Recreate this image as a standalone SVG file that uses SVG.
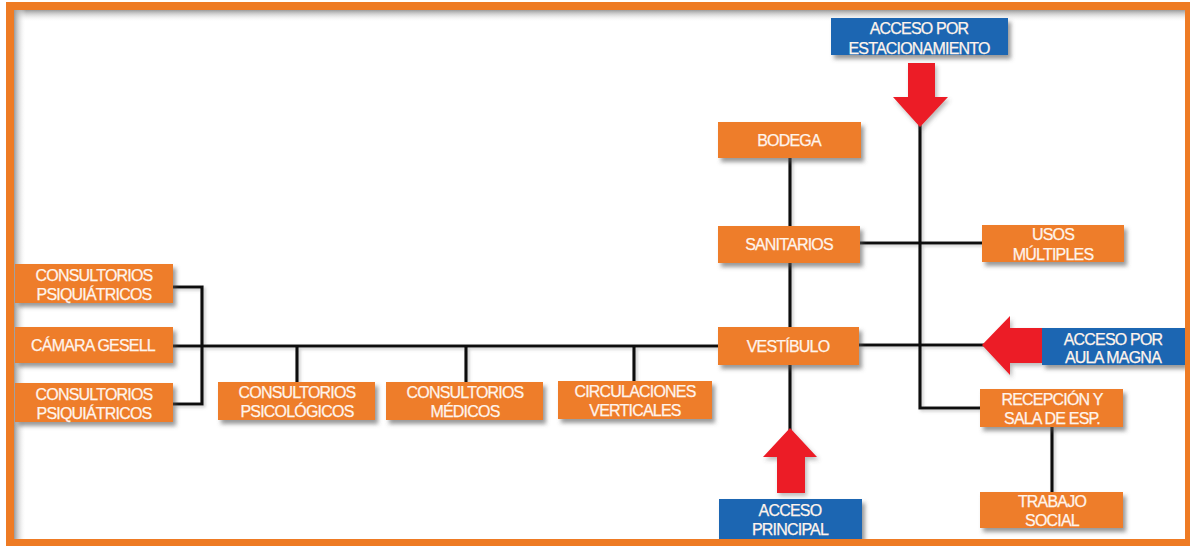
<svg xmlns="http://www.w3.org/2000/svg" width="1190" height="546" viewBox="0 0 1190 546">
<style>
.box{fill:#EE7D2B;filter:url(#sh)}
.blue{fill:#1A66B2;filter:url(#sh)}
.arr{fill:#EC1C26;filter:url(#sh2)}
.t{font-family:"Liberation Sans",Arial,sans-serif;font-size:16px;fill:#FFF4EC;stroke:#FFF4EC;stroke-width:0.25px;text-anchor:middle;letter-spacing:-0.8px}
.ln{fill:none;stroke:#111;stroke-width:3.2;stroke-linejoin:miter}
</style>
<defs>
<filter id="sh" x="-10%" y="-20%" width="125%" height="160%">
<feDropShadow dx="3" dy="4" stdDeviation="2" flood-color="#555" flood-opacity="0.6"/>
</filter>
<filter id="sh2" x="-20%" y="-20%" width="150%" height="150%">
<feDropShadow dx="2" dy="3" stdDeviation="2" flood-color="#555" flood-opacity="0.4"/>
</filter>
<filter id="sh3" filterUnits="userSpaceOnUse" x="0" y="0" width="1190" height="546">
<feDropShadow dx="2" dy="2" stdDeviation="1.5" flood-color="#777" flood-opacity="0.35"/>
</filter>
<linearGradient id="gt" x1="0" y1="0" x2="0" y2="1">
<stop offset="0" stop-color="#9a9a9a"/><stop offset="1" stop-color="#fff" stop-opacity="0"/>
</linearGradient>
<linearGradient id="gl" x1="0" y1="0" x2="1" y2="0">
<stop offset="0" stop-color="#9a9a9a"/><stop offset="1" stop-color="#fff" stop-opacity="0"/>
</linearGradient>
</defs>
<rect x="0" y="0" width="1190" height="546" fill="#fff"/>
<rect x="14" y="10" width="1171" height="12" fill="url(#gt)"/>
<rect x="14" y="10" width="12" height="529" fill="url(#gl)"/>

<g id="connectors" filter="url(#sh3)">
<path class="ln" d="M173,287 H202 V404 H173"/>
<path class="ln" d="M173,346 H718"/>
<path class="ln" d="M297,346 V382 M466,346 V382 M634,346 V381"/>
<path class="ln" d="M790,158 V226 M790,263 V327 M790,365 V430"/>
<path class="ln" d="M860,243 H982"/>
<path class="ln" d="M859,345 H984"/>
<path class="ln" d="M920,125 V408 H980"/>
<path class="ln" d="M1052,427 V492"/>
</g>

<g id="arrow-estacionamiento"><polygon class="arr" points="908,63 935,63 935,97 948,97 920,127 893,97 908,97"/></g>
<g id="arrow-aula"><polygon class="arr" points="1042,328 1010,328 1010,316 982,345 1010,375 1010,363 1042,363"/></g>
<g id="arrow-principal"><polygon class="arr" points="777,493 777,457 763,457 790,428 817,457 805,457 805,493"/></g>

<g id="psiq1"><rect class="box" x="15" y="264" width="158" height="39"/><text class="t" x="94" y="281">CONSULTORIOS</text><text class="t" x="94" y="300">PSIQUIÁTRICOS</text></g>
<g id="gesell"><rect class="box" x="15" y="327" width="158" height="36"/><text class="t" x="93" y="351">CÁMARA GESELL</text></g>
<g id="psiq2"><rect class="box" x="15" y="383" width="158" height="39"/><text class="t" x="94" y="400">CONSULTORIOS</text><text class="t" x="94" y="419">PSIQUIÁTRICOS</text></g>
<g id="psico"><rect class="box" x="218" y="382" width="157" height="38"/><text class="t" x="297" y="398">CONSULTORIOS</text><text class="t" x="297" y="417">PSICOLÓGICOS</text></g>
<g id="medicos"><rect class="box" x="386" y="382" width="157" height="38"/><text class="t" x="465" y="398">CONSULTORIOS</text><text class="t" x="465" y="417">MÉDICOS</text></g>
<g id="circ"><rect class="box" x="558" y="381" width="154" height="38"/><text class="t" x="635" y="397">CIRCULACIONES</text><text class="t" x="635" y="416">VERTICALES</text></g>
<g id="vestibulo"><rect class="box" x="718" y="327" width="141" height="38"/><text class="t" x="788" y="352">VESTÍBULO</text></g>
<g id="sanitarios"><rect class="box" x="718" y="226" width="142" height="37"/><text class="t" x="789" y="250">SANITARIOS</text></g>
<g id="bodega"><rect class="box" x="718" y="122" width="143" height="36"/><text class="t" x="789" y="146">BODEGA</text></g>
<g id="usos"><rect class="box" x="982" y="225" width="142" height="37"/><text class="t" x="1053" y="240">USOS</text><text class="t" x="1053" y="260">MÚLTIPLES</text></g>
<g id="recepcion"><rect class="box" x="980" y="389" width="143" height="38"/><text class="t" x="1052" y="405">RECEPCIÓN Y</text><text class="t" x="1052" y="424">SALA DE ESP.</text></g>
<g id="trabajo"><rect class="box" x="980" y="492" width="143" height="36"/><text class="t" x="1052" y="507">TRABAJO</text><text class="t" x="1052" y="526">SOCIAL</text></g>
<g id="acc-est"><rect class="blue" x="831" y="18" width="177" height="37"/><text class="t" x="919" y="34">ACCESO POR</text><text class="t" x="919" y="54">ESTACIONAMIENTO</text></g>
<g id="acc-aula"><rect class="blue" x="1042" y="328" width="143" height="37"/><text class="t" x="1113" y="345">ACCESO POR</text><text class="t" x="1113" y="363">AULA MAGNA</text></g>
<g id="acc-prin"><rect class="blue" x="719" y="499" width="143" height="45"/><text class="t" x="790" y="516">ACCESO</text><text class="t" x="790" y="535">PRINCIPAL</text></g>

<rect x="10" y="6" width="1179" height="537" fill="none" stroke="#EE7B24" stroke-width="8"/>
</svg>
